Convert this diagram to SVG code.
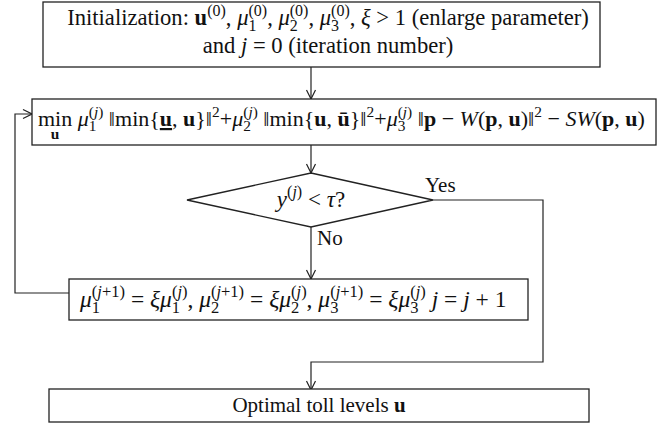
<svg xmlns="http://www.w3.org/2000/svg" width="658" height="425" viewBox="0 0 658 425">
<style>
text{font-family:"Liberation Serif","Times New Roman",serif;font-size:21px;fill:#111}
.f1{font-size:22.6px}
.f3{font-size:23.5px}
.f23{font-size:23px}
.f22{font-size:22px}
.box{fill:#fff;stroke:#222;stroke-width:1.3}
.ln{fill:none;stroke:#222;stroke-width:1.2}
.i{font-style:italic}
.b{font-weight:bold}
.s{font-size:16px}
.r{font-size:16.5px}
.t{font-size:15.4px}
</style>
<defs>
<marker id="ah" viewBox="0 0 12 12" markerWidth="12" markerHeight="12" refX="11" refY="6" orient="auto" markerUnits="userSpaceOnUse">
<path d="M2,1.5 L11,6 L2,10.5" fill="none" stroke="#222" stroke-width="1.2"/>
</marker>
</defs>
<g id="connectors">
<line class="ln" x1="311" y1="67" x2="311" y2="99" marker-end="url(#ah)"/>
<line class="ln" x1="311" y1="145" x2="311" y2="173" marker-end="url(#ah)"/>
<line class="ln" x1="311" y1="227" x2="311" y2="279" marker-end="url(#ah)"/>
<polyline class="ln" points="69,293 15,293 15,114 32,114" marker-end="url(#ah)"/>
<polyline class="ln" points="433,200 543,200 543,362 311,362 311,390" marker-end="url(#ah)"/>
<text x="425" y="192">Yes</text>
<text x="317" y="245">No</text>
</g>
<g id="init">
<rect class="box" x="43" y="2" width="557" height="65"/>
<text class="f1" x="328" y="25" text-anchor="middle">Initialization: <tspan class="b">u</tspan><tspan class="s" dy="-9.5">(0)</tspan><tspan dy="9.5">, </tspan><tspan class="i">μ</tspan><tspan class="s" dy="-9.5">(0)</tspan><tspan class="s" dx="-18.7" dy="15">1</tspan><tspan dx="10.7" dy="-5.5">, </tspan><tspan class="i">μ</tspan><tspan class="s" dy="-9.5">(0)</tspan><tspan class="s" dx="-18.7" dy="15">2</tspan><tspan dx="10.7" dy="-5.5">, </tspan><tspan class="i">μ</tspan><tspan class="s" dy="-9.5">(0)</tspan><tspan class="s" dx="-18.7" dy="15">3</tspan><tspan dx="10.7" dy="-5.5">, </tspan><tspan class="i">ξ</tspan> &gt; 1 (enlarge parameter)</text>
<text class="f1" x="328" y="53" text-anchor="middle">and <tspan class="i">j</tspan> = 0 (iteration number)</text>
</g>
<g id="optimize">
<rect class="box" x="32" y="99" width="624" height="46"/>
<text class="f22" x="38" y="126">min <tspan class="i">μ</tspan><tspan class="t" dy="-9">(<tspan class="i">j</tspan>)</tspan><tspan class="t" dx="-14.5" dy="14">1</tspan><tspan dx="6.8" dy="-5"> ‖min{</tspan><tspan class="b" style="text-decoration:underline">u</tspan>, <tspan class="b">u</tspan>}‖<tspan class="t" dy="-9">2</tspan><tspan dy="9">+</tspan><tspan class="i">μ</tspan><tspan class="t" dy="-9">(<tspan class="i">j</tspan>)</tspan><tspan class="t" dx="-14.5" dy="14">2</tspan><tspan dx="6.8" dy="-5"> ‖min{</tspan><tspan class="b">u</tspan>, <tspan class="b">ū</tspan>}‖<tspan class="t" dy="-9">2</tspan><tspan dy="9">+</tspan><tspan class="i">μ</tspan><tspan class="t" dy="-9">(<tspan class="i">j</tspan>)</tspan><tspan class="t" dx="-14.5" dy="14">3</tspan><tspan dx="6.8" dy="-5"> ‖</tspan><tspan class="b">p</tspan> − <tspan class="i">W</tspan>(<tspan class="b">p</tspan>, <tspan class="b">u</tspan>)‖<tspan class="t" dy="-9">2</tspan><tspan dy="9"> − </tspan><tspan class="i">SW</tspan>(<tspan class="b">p</tspan>, <tspan class="b">u</tspan>)</text>
<text x="55" y="139" class="t b" text-anchor="middle">u</text>
</g>
<g id="check">
<polygon class="box" points="311,173 433,200 311,227 187,200"/>
<text class="f23" x="311" y="207" text-anchor="middle"><tspan class="i">y</tspan><tspan class="s" dy="-10">(<tspan class="i">j</tspan>)</tspan><tspan dy="10"> &lt; </tspan><tspan class="i">τ</tspan>?</text>
</g>
<g id="update">
<rect class="box" x="69" y="279" width="459" height="41"/>
<text class="f3" x="80" y="307"><tspan class="i">μ</tspan><tspan class="r" dy="-10">(<tspan class="i">j</tspan>+1)</tspan><tspan class="r" dx="-33.1" dy="15.5">1</tspan><tspan dx="24.9" dy="-5.5"> = </tspan><tspan class="i">ξμ</tspan><tspan class="r" dy="-10">(<tspan class="i">j</tspan>)</tspan><tspan class="r" dx="-15.6" dy="15.5">1</tspan><tspan dx="7.3" dy="-5.5">, </tspan><tspan class="i">μ</tspan><tspan class="r" dy="-10">(<tspan class="i">j</tspan>+1)</tspan><tspan class="r" dx="-33.1" dy="15.5">2</tspan><tspan dx="24.9" dy="-5.5"> = </tspan><tspan class="i">ξμ</tspan><tspan class="r" dy="-10">(<tspan class="i">j</tspan>)</tspan><tspan class="r" dx="-15.6" dy="15.5">2</tspan><tspan dx="7.3" dy="-5.5">, </tspan><tspan class="i">μ</tspan><tspan class="r" dy="-10">(<tspan class="i">j</tspan>+1)</tspan><tspan class="r" dx="-33.1" dy="15.5">3</tspan><tspan dx="24.9" dy="-5.5"> = </tspan><tspan class="i">ξμ</tspan><tspan class="r" dy="-10">(<tspan class="i">j</tspan>)</tspan><tspan class="r" dx="-15.6" dy="15.5">3</tspan><tspan dx="7.3" dy="-5.5"> </tspan><tspan class="i">j</tspan> = <tspan class="i">j</tspan> + 1</text>
</g>
<g id="result">
<rect class="box" x="49" y="389" width="540" height="33"/>
<text x="319" y="412" text-anchor="middle">Optimal toll levels <tspan class="b">u</tspan></text>
</g>
</svg>
